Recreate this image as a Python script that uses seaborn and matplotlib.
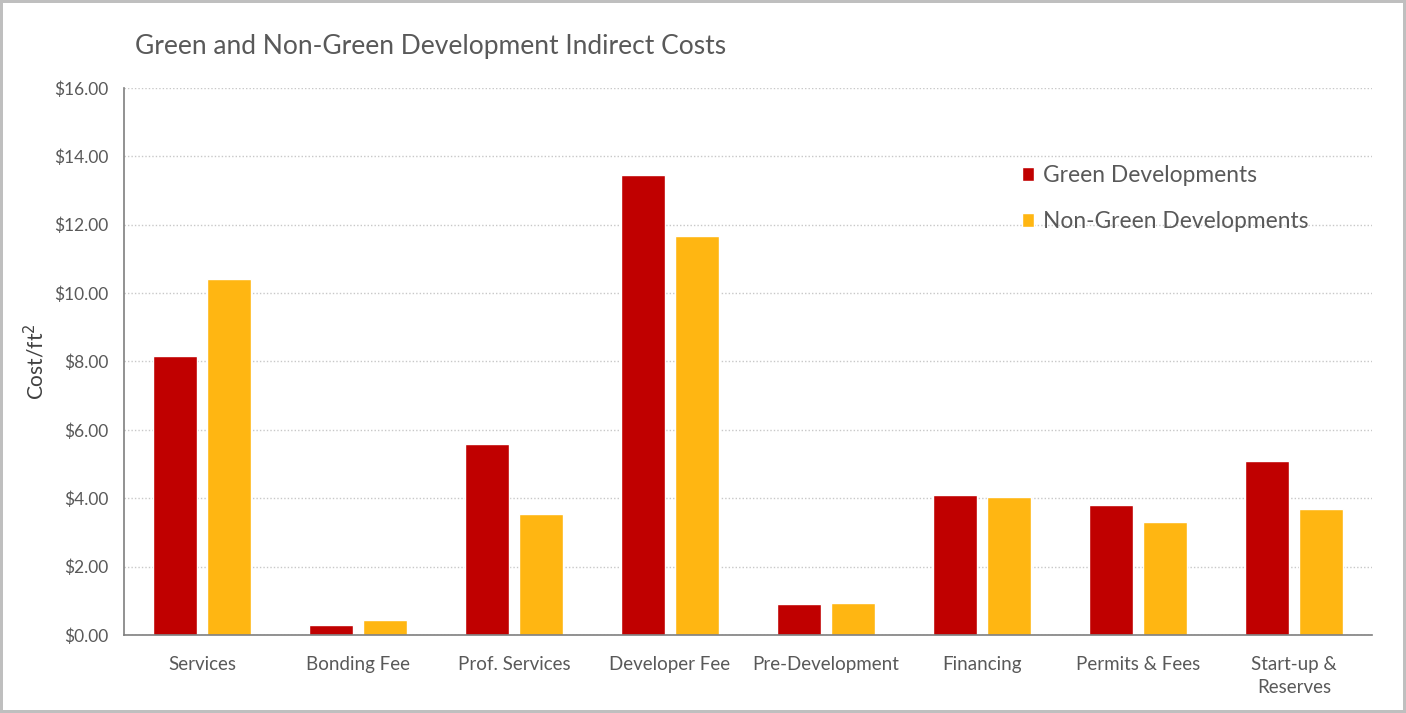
import matplotlib
matplotlib.use("Agg")
import matplotlib.pyplot as plt
import seaborn as sns
import pandas as pd
from matplotlib.ticker import FuncFormatter, MultipleLocator

categories = ["Services", "Bonding Fee", "Prof. Services", "Developer Fee",
              "Pre-Development", "Financing", "Permits & Fees", "Start-up &\nReserves"]
green = [8.16, 0.28, 5.58, 13.45, 0.91, 4.09, 3.80, 5.09]
non_green = [10.41, 0.44, 3.54, 11.67, 0.94, 4.03, 3.30, 3.68]
series = ["Green Developments", "Non-Green Developments"]
colors = ["#C00000", "#FFB612"]

df = pd.DataFrame({
    "category": categories * 2,
    "cost": green + non_green,
    "series": [series[0]] * len(categories) + [series[1]] * len(categories),
})

sns.set_theme(style="white")
plt.rcParams["font.family"] = ["Lato", "DejaVu Sans"]
text_color = "#595959"

fig = plt.figure(figsize=(14.06, 7.13), dpi=100)
fig.patch.set_edgecolor("#bfbfbf")
fig.patch.set_linewidth(3)
ax = fig.add_axes([0.0882, 0.1094, 0.8876, 0.7672])

sns.barplot(data=df, x="category", y="cost", hue="series", order=categories,
            hue_order=series, palette=colors, width=0.692, gap=0.185,
            saturation=1, ax=ax, legend=True)

ax.set_xlim(-0.5, len(categories) - 0.5)
ax.set_ylim(0, 16)
ax.yaxis.set_major_locator(MultipleLocator(2))
ax.yaxis.set_major_formatter(FuncFormatter(lambda v, p: f"${v:.2f}"))
ax.grid(axis="y", color="#c8c8c8", linestyle=(0, (1, 1.5)), linewidth=1)
ax.set_axisbelow(True)

for side in ["top", "right"]:
    ax.spines[side].set_visible(False)
ax.spines["left"].set_color("#7f7f7f")
ax.spines["bottom"].set_color("#7f7f7f")
ax.spines["left"].set_linewidth(1.2)
ax.spines["bottom"].set_linewidth(1.2)

ax.tick_params(axis="y", length=0, labelsize=12.5, labelcolor=text_color, pad=11)
ax.tick_params(axis="x", length=4, width=1, color="#7f7f7f", direction="out",
               labelsize=13.5, labelcolor=text_color, pad=11)
plt.setp(ax.get_xticklabels(), linespacing=1.45)

ax.set_xlabel("")
ax.set_ylabel("Cost/ft$^2$", fontsize=15, color="#404040", labelpad=5)

fig.text(0.096, 0.935, "Green and Non-Green Development Indirect Costs",
         fontsize=19, color=text_color, ha="left", va="center")

handles, labels = ax.get_legend_handles_labels()
ax.legend(handles, labels, loc="upper left", bbox_to_anchor=(0.703, 0.897),
          frameon=False, fontsize=16.4, handlelength=0.55, handleheight=0.55,
          handletextpad=0.4, labelspacing=1.1, labelcolor=text_color)

fig.savefig("out.png", dpi=100, edgecolor=fig.get_edgecolor())
